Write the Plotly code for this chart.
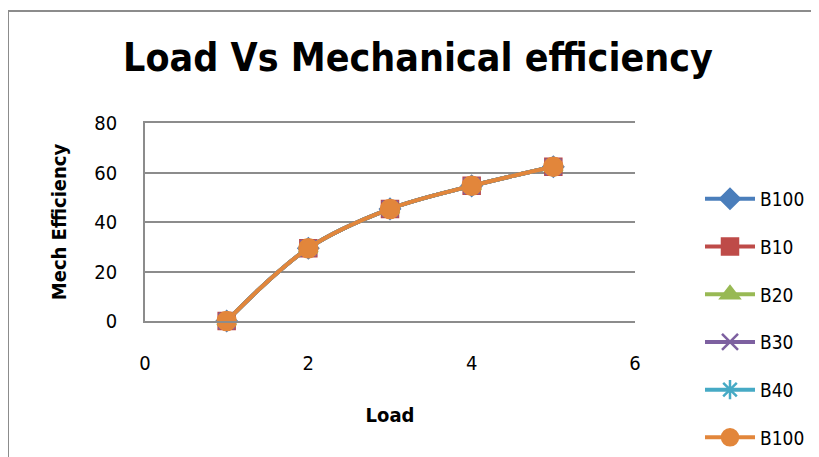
import plotly.graph_objects as go

load = [1, 2, 3, 4, 5]
b100_a = [0, 29.4, 45.3, 54.6, 62.3]
b10 = [0, 29.4, 45.3, 54.6, 62.3]
b20 = [0, 29.4, 45.3, 54.6, 62.3]
b30 = [0, 29.4, 45.3, 54.6, 62.3]
b40 = [0, 29.4, 45.3, 54.6, 62.3]
b100_b = [0, 29.4, 45.3, 54.6, 62.3]
names = ["B100", "B10", "B20", "B30", "B40", "B100"]
x_ticks = [0, 2, 4, 6]
y_ticks = [0, 20, 40, 60, 80]

NARROW = "DejaVu Sans Condensed, Liberation Sans Narrow, Arial Narrow, sans-serif"

series = [
    (b100_a, "#4A7EBB", "diamond", 15),
    (b10, "#BE4B48", "square", 16),
    (b20, "#98B954", "triangle-up", 16),
    (b30, "#7D60A0", "x-thin-open", 16),
    (b40, "#46AAC5", "asterisk-open", 16),
    (b100_b, "#E2863B", "circle", 18),
]

fig = go.Figure()
for i, (vals, col, sym, sz) in enumerate(series):
    fig.add_trace(go.Scatter(
        x=load, y=vals, name=names[i], mode="lines+markers",
        legendgroup=f"g{i}", cliponaxis=False,
        line=dict(color=col, width=4, shape="spline"),
        marker=dict(symbol=sym, size=sz, color=col,
                    line=dict(color=col, width=2.5)),
    ))

# the page adds an 8px body margin; positions below are in figure pixels
OFF = 8
W, H = 819, 457
L, R = 145 - OFF, W - (635 - OFF)
T, B = 123 - OFF, H - (321 - OFF)
pw, ph = W - L - R, H - T - B

def px_x(s):
    return (s - OFF - L) / pw

def px_y(s):
    return (H - B - (s - OFF)) / ph

fig.update_layout(
    width=W, height=H,
    margin=dict(l=L, r=R, t=T, b=B, autoexpand=False),
    paper_bgcolor="white", plot_bgcolor="white",
    font=dict(family=NARROW, size=19, color="black"),
    title=dict(text="<b>Load Vs Mechanical efficiency</b>",
               font=dict(family=NARROW, size=39, color="black"),
               x=(418 - OFF) / W, xanchor="center",
               y=1 - (57 - OFF) / H, yanchor="middle", xref="container",
               yref="container"),
    showlegend=True,
    legend=dict(x=px_x(700), xanchor="left", y=px_y(180), yanchor="top",
                font=dict(family=NARROW, size=19, color="black"),
                tracegroupgap=20, bgcolor="rgba(0,0,0,0)",
                itemwidth=50, maxheight=320),
    xaxis=dict(range=[0, 6], tickvals=x_ticks, showgrid=False, zeroline=False,
               showline=True, mirror=True, linecolor="#8C8C8C", linewidth=1.5,
               ticks="outside", ticklen=23, automargin=False,
               tickcolor="rgba(0,0,0,0)",
               tickfont=dict(family=NARROW, size=20),
               title=dict(text="<b>Load</b>", font=dict(family=NARROW, size=20),
                          standoff=34)),
    yaxis=dict(range=[0, 80], tickvals=y_ticks, showgrid=True, gridcolor="#8C8C8C",
               gridwidth=1.5, zeroline=False, showline=True, linecolor="#8C8C8C",
               linewidth=1.5, ticks="outside", ticklen=22, automargin=False,
               tickcolor="rgba(0,0,0,0)",
               tickfont=dict(family=NARROW, size=20),
               title=dict(text="<b>Mech Efficiency</b>",
                          font=dict(family=NARROW, size=20), standoff=22)),
    shapes=[dict(type="rect", xref="paper", yref="paper",
                 x0=px_x(8), x1=px_x(900), y0=px_y(520), y1=px_y(11),
                 line=dict(color="#8C8C8C", width=2), layer="below")],
)

fig.write_html("out.html")
